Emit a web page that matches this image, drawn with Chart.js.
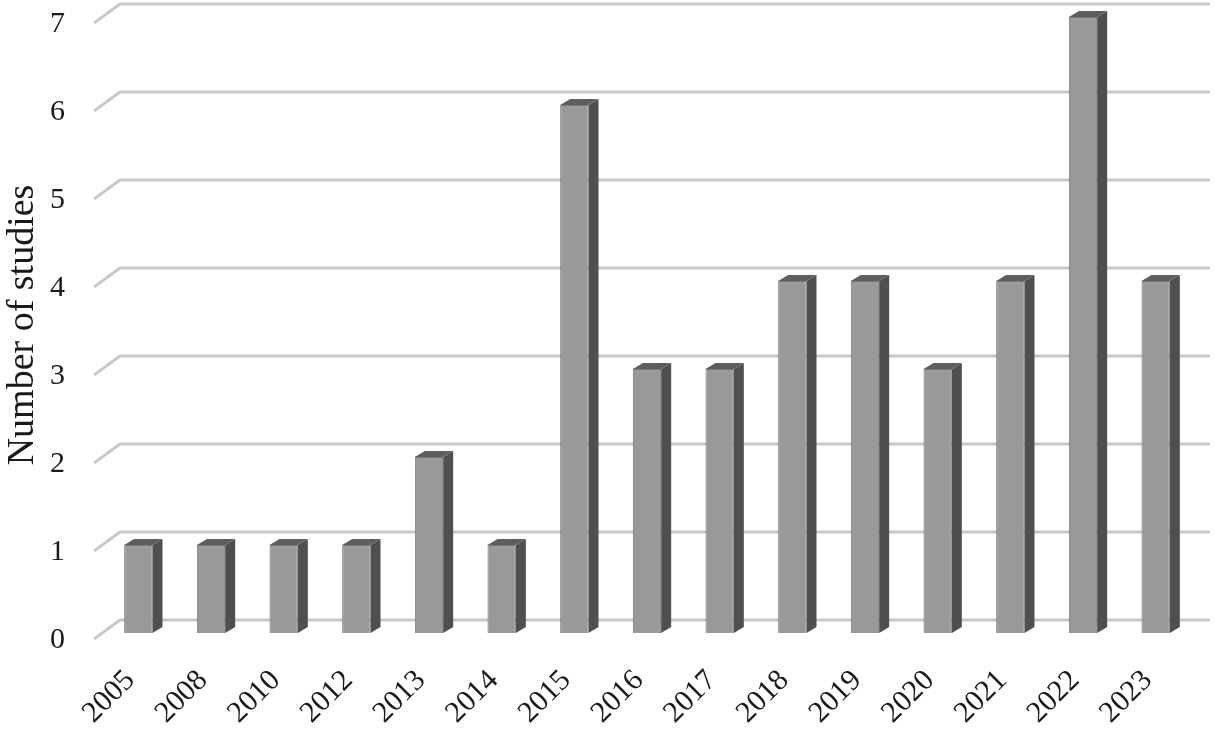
<!DOCTYPE html>
<html>
<head>
<meta charset="utf-8">
<script src="https://cdn.jsdelivr.net/npm/chart.js@4/dist/chart.umd.min.js"></script>
<style>
  html, body { margin: 0; padding: 0; background: #fff; }
  #wrap { width: 1216px; height: 733px; position: relative; }
</style>
</head>
<body>
<div id="wrap"><canvas id="studyChart"></canvas></div>
<script>
const years = ['2005', '2008', '2010', '2012', '2013', '2014', '2015', '2016', '2017', '2018', '2019', '2020', '2021', '2022', '2023'];
const studies = [1, 1, 1, 1, 2, 1, 6, 3, 3, 4, 4, 3, 4, 7, 4];
const yTicks = [0, 1, 2, 3, 4, 5, 6, 7];

const serif = '"Liberation Serif", "Times New Roman", serif';

// slanted grid lines, like the 3D floor/wall of the original
const gridPlugin = {
  id: 'grid3d',
  beforeDatasetsDraw(chart) {
    const { ctx, chartArea, scales } = chart;
    ctx.save();
    ctx.strokeStyle = '#c8c8c8';
    ctx.lineWidth = 3;
    yTicks.forEach(v => {
      const y = scales.y.getPixelForValue(v);
      ctx.beginPath();
      ctx.moveTo(chartArea.left - 8, y + 6);
      ctx.lineTo(chartArea.left + 18, y - 13);
      ctx.lineTo(chartArea.right + 18, y - 13);
      ctx.stroke();
    });
    ctx.restore();
  }
};

// side and top faces of each bar
const sidesPlugin = {
  id: 'bar3d',
  afterDatasetsDraw(chart) {
    const { ctx } = chart;
    const dx = 10, dy = -6;
    ctx.save();
    chart.getDatasetMeta(0).data.forEach(bar => {
      const { x, y, base, width } = bar.getProps(['x', 'y', 'base', 'width'], true);
      const l = x - width / 2, r = x + width / 2;
      ctx.fillStyle = '#4f4f4f';
      ctx.beginPath();
      ctx.moveTo(r, y);
      ctx.lineTo(r + dx, y + dy);
      ctx.lineTo(r + dx, base + dy);
      ctx.lineTo(r, base);
      ctx.closePath();
      ctx.fill();
      ctx.fillStyle = '#5e5e5e';
      ctx.beginPath();
      ctx.moveTo(l, y);
      ctx.lineTo(l + dx, y + dy);
      ctx.lineTo(r + dx, y + dy);
      ctx.lineTo(r, y);
      ctx.closePath();
      ctx.fill();
    });
    ctx.restore();
  }
};

new Chart(document.getElementById('studyChart'), {
  type: 'bar',
  data: {
    labels: years,
    datasets: [{
      data: studies,
      backgroundColor: '#999999',
      borderColor: '#7a7a7a',
      borderWidth: 1,
      categoryPercentage: 1,
      barPercentage: 0.39
    }]
  },
  options: {
    responsive: true,
    maintainAspectRatio: false,
    animation: false,
    layout: { padding: { top: 17, right: 24, left: 0, bottom: 0 } },
    plugins: {
      legend: { display: false },
      tooltip: { enabled: false }
    },
    scales: {
      x: {
        grid: { display: false },
        border: { display: false },
        ticks: {
          minRotation: 45,
          maxRotation: 45,
          padding: 22,
          labelOffset: -8,
          color: '#1a1a1a',
          font: { family: serif, size: 30 }
        },
        afterFit(scale) { scale.height = 100; }
      },
      y: {
        min: 0,
        max: 7,
        grid: { display: false },
        border: { display: false },
        ticks: {
          stepSize: 1,
          padding: 29,
          labelOffset: 7,
          color: '#1a1a1a',
          font: { family: serif, size: 30 }
        },
        title: {
          display: true,
          text: 'Number of studies',
          color: '#1a1a1a',
          font: { family: serif, size: 38 },
          padding: { top: 0, bottom: 0 }
        },
        afterFit(scale) {
          scale.width = 102;
          scale.paddingTop = 0;
          scale.paddingBottom = 0;
        }
      }
    }
  },
  plugins: [gridPlugin, sidesPlugin]
});
</script>
</body>
</html>
